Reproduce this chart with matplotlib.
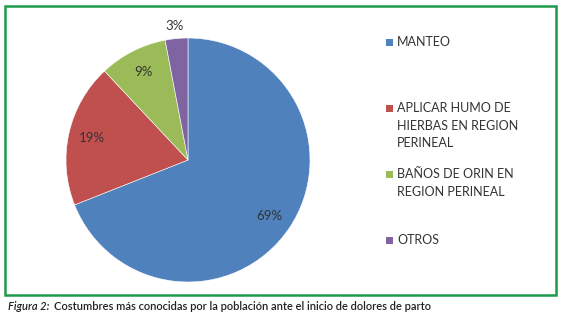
import matplotlib.pyplot as plt
from matplotlib.patches import Rectangle

categories = ['MANTEO', 'APLICAR HUMO DE\nHIERBAS EN REGION\nPERINEAL',
              'BAÑOS DE ORIN EN\nREGION PERINEAL', 'OTROS']
values = [69, 19, 9, 3]
colors = ['#4F81BD', '#C0504D', '#9BBB59', '#8064A2']

plt.rcParams['font.family'] = ['Lato', 'DejaVu Sans']

fig = plt.figure(figsize=(5.61, 3.19), dpi=100)
W, H = 561, 319

# pie area
ax = fig.add_axes([66 / W, 1 - 282 / H, 244 / W, 244 / H])
wedges, texts, autotexts = ax.pie(values, colors=colors, startangle=90,
                                  counterclock=False, autopct='%1.0f%%',
                                  pctdistance=0.81,
                                  wedgeprops=dict(edgecolor='white', linewidth=0.4),
                                  textprops=dict(fontsize=9.5, color='#333333'))
# small slice label sits outside
autotexts[3].set_position((-0.11, 1.1))
ax.set_xlim(-1, 1)
ax.set_ylim(-1, 1)
ax.set_aspect('equal')

# legend drawn by hand, one entry every 66 px
for i, (cat, col) in enumerate(zip(categories, colors)):
    ytop = 38 + i * 66
    fig.patches.append(Rectangle((386 / W, 1 - (ytop + 8) / H), 7 / W, 7 / H,
                                 transform=fig.transFigure, facecolor=col,
                                 edgecolor='none'))
    fig.text(397 / W, 1 - (ytop - 2) / H, cat, fontsize=9, color='#333333',
             va='top', ha='left', linespacing=1.55)

# green frame
fig.patches.append(Rectangle((5 / W, 1 - 295 / H), 551 / W, 289 / H,
                             transform=fig.transFigure, fill=False,
                             edgecolor='#1E9A4A', linewidth=1.8))

# caption
fig.text(8 / W, 1 - 307 / H, 'Figura 2:', fontsize=8, style='italic',
         weight='semibold', color='#222222', va='center', ha='left')
fig.text(54 / W, 1 - 307 / H,
         'Costumbres más conocidas por la población ante el inicio de dolores de parto',
         fontsize=8, weight='semibold', color='#222222', va='center', ha='left')

fig.savefig('out.png', dpi=100)
